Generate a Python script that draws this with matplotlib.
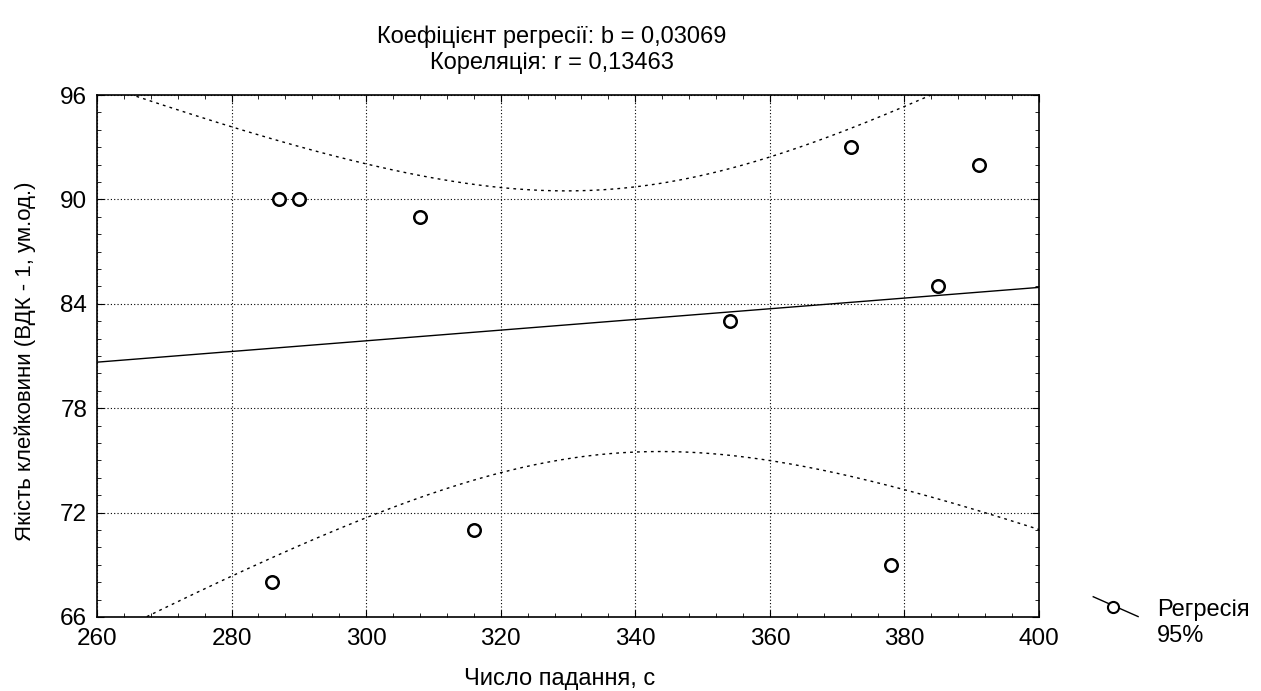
import numpy as np
import matplotlib
matplotlib.use('Agg')
import matplotlib.pyplot as plt
from matplotlib.ticker import MultipleLocator
from matplotlib.legend_handler import HandlerLine2D
from matplotlib.lines import Line2D

plt.rcParams['font.family'] = ['Liberation Sans', 'DejaVu Sans']

# data
fall_number = [286, 287, 290, 308, 316, 354, 372, 378, 385, 391]
gluten_quality = [68, 90, 90, 89, 71, 83, 93, 69, 85, 92]
t_crit = 2.306  # t(0.975, df=8)

x = np.array(fall_number, dtype=float)
y = np.array(gluten_quality, dtype=float)
n = len(x)
xm, ym = x.mean(), y.mean()
sxx = np.sum((x - xm) ** 2)
b = np.sum((x - xm) * (y - ym)) / sxx
a = ym - b * xm
r = np.corrcoef(x, y)[0, 1]
s = np.sqrt(np.sum((y - (a + b * x)) ** 2) / (n - 2))

xx = np.linspace(260, 400, 300)
yy = a + b * xx
half = t_crit * s * np.sqrt(1.0 / n + (xx - xm) ** 2 / sxx)


class SlantHandler(HandlerLine2D):
    # slanted line with a circle in the middle, next to the first text line
    def create_artists(self, legend, orig_handle, xdescent, ydescent,
                       width, height, fontsize, trans):
        xs = [-xdescent, -xdescent + width]
        ys = [height * 2.1 - ydescent, height * 0.9 - ydescent]
        ln = Line2D(xs, ys, color='black', lw=1.0)
        mk = Line2D([-xdescent + width * 0.45], [height * 1.5 - ydescent], ls='none',
                    marker='o', ms=8, mfc='white', mec='black', mew=1.5)
        for art in (ln, mk):
            art.set_transform(trans)
        return [ln, mk]


fig = plt.figure(figsize=(12.61, 6.91), dpi=100)
ax = fig.add_axes([0.0769, 0.1071, 0.7471, 0.7554])

ax.plot(xx, yy, color='black', lw=1.0)
ax.plot(xx, yy + half, color='black', lw=1.0, ls=(0, (2, 3)))
ax.plot(xx, yy - half, color='black', lw=1.0, ls=(0, (2, 3)))
ax.plot(x, y, ls='none', marker='o', ms=9, mfc='white', mec='black', mew=1.8)

ax.set_xlim(260, 400)
ax.set_ylim(66, 96)
ax.xaxis.set_major_locator(MultipleLocator(20))
ax.xaxis.set_minor_locator(MultipleLocator(4))
ax.yaxis.set_major_locator(MultipleLocator(6))
ax.yaxis.set_minor_locator(MultipleLocator(1))
ax.tick_params(which='both', direction='in', top=True, right=True, labelsize=17.5)
ax.tick_params(which='major', length=5)
ax.tick_params(which='minor', length=3)
ax.tick_params(axis='x', pad=8)
ax.tick_params(axis='y', pad=7)
ax.grid(True, which='major', color='black', ls=(0, (1, 2)), lw=0.8)
for sp in ax.spines.values():
    sp.set_linewidth(1.2)

ax.set_xlabel('Число падання, с', fontsize=17, va='center')
ax.xaxis.set_label_coords((560 - 97) / 942, -(679 - 617) / 522)
ax.set_ylabel('Якість клейковини (ВДК - 1, ум.од.)', fontsize=16, va='center')
ax.yaxis.set_label_coords(-(97 - 25) / 942, (617 - 361) / 522)

fig.text(552 / 1261, 1 - 37 / 691, 'Коефіцієнт регресії: b = %s' % ('%.5f' % b).replace('.', ','),
         ha='center', va='center', fontsize=17)
fig.text(552 / 1261, 1 - 63 / 691, 'Кореляція: r = %s' % ('%.5f' % r).replace('.', ','),
         ha='center', va='center', fontsize=17)

h = Line2D([], [], color='black')
fig.legend([h], ['Регресія\n95%'], loc='upper left', bbox_to_anchor=(1072 / 1261, 1 - 578 / 691),
           frameon=False, fontsize=17, handlelength=1.9, handletextpad=0.8,
           labelspacing=0.3, handler_map={h: SlantHandler()})

fig.savefig('out.png', dpi=100)
